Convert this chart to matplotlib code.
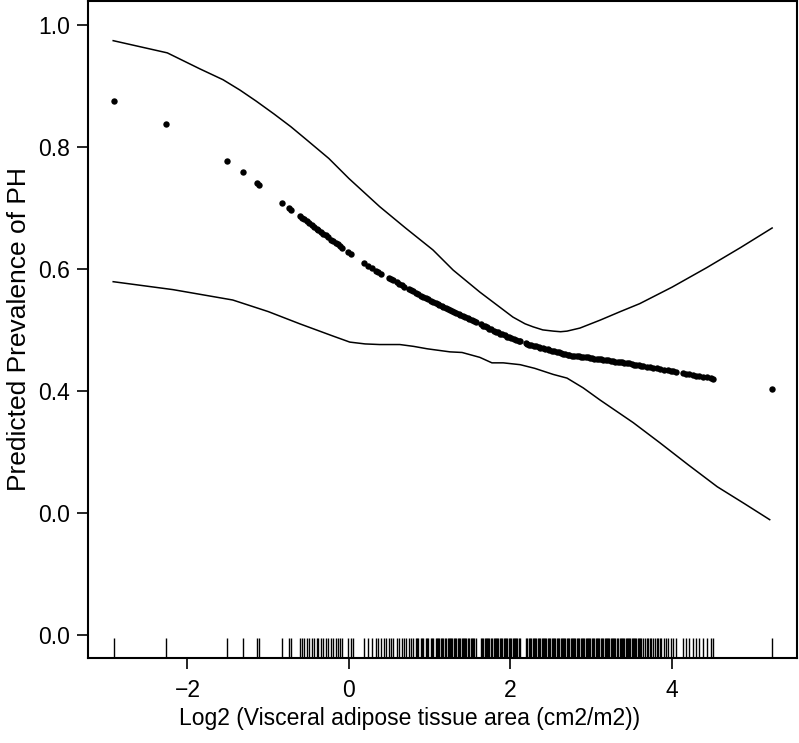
import matplotlib
matplotlib.use("Agg")
import matplotlib.pyplot as plt

plt.rcParams['font.family'] = ['Liberation Sans', 'DejaVu Sans']

# Observed x values (rug) and predicted prevalence at each (dots)
obs_x = [-2.91, -2.27, -1.51, -1.31, -1.14, -1.11, -0.826, -0.743, -0.718,
         -0.607, -0.586, -0.554, -0.524, -0.495, -0.462, -0.430, -0.400, -0.380,
         -0.347, -0.318, -0.289, -0.256, -0.223, -0.194, -0.165, -0.140, -0.111,
         -0.083, -0.009, 0.025, 0.189, 0.239, 0.281, 0.334, 0.355, 0.396,
         0.495, 0.520, 0.549, 0.591, 0.619, 0.653, 0.685, 0.743, 0.768,
         0.796, 0.826, 0.858, 0.892, 0.920, 0.950, 0.982, 1.015, 1.044, 1.074,
         1.10, 1.12, 1.15, 1.17, 1.20, 1.22, 1.25, 1.28, 1.30, 1.33, 1.36, 1.38,
         1.41, 1.44, 1.47, 1.49, 1.52, 1.55, 1.57, 1.63, 1.66, 1.68, 1.71, 1.74,
         1.76, 1.79, 1.82, 1.85, 1.87, 1.90, 1.93, 1.96, 1.98, 2.01, 2.04, 2.07,
         2.10, 2.12, 2.19, 2.21, 2.23, 2.26, 2.29, 2.32, 2.35, 2.37, 2.40, 2.43,
         2.46, 2.48, 2.51, 2.54, 2.57, 2.60, 2.62, 2.65, 2.68, 2.71, 2.73, 2.76,
         2.79, 2.82, 2.85, 2.87, 2.90, 2.93, 2.96, 2.99, 3.01, 3.04, 3.07, 3.10,
         3.12, 3.15, 3.18, 3.21, 3.24, 3.27, 3.30, 3.33, 3.35, 3.38, 3.41, 3.44,
         3.47, 3.50, 3.53, 3.56, 3.59, 3.62, 3.645, 3.687, 3.728, 3.768, 3.810,
         3.851, 3.901, 3.954, 3.984, 4.009, 4.050, 4.133, 4.173, 4.214, 4.256,
         4.297, 4.338, 4.388, 4.430, 4.479, 4.504, 5.235]

pred_y = [0.875, 0.838, 0.777, 0.759, 0.740, 0.737, 0.708, 0.699, 0.697,
          0.687, 0.684, 0.681, 0.678, 0.675, 0.672, 0.669, 0.666, 0.664,
          0.660, 0.657, 0.655, 0.652, 0.648, 0.645, 0.642, 0.640, 0.637,
          0.634, 0.627, 0.624, 0.610, 0.605, 0.601, 0.597, 0.595, 0.592,
          0.585, 0.583, 0.581, 0.578, 0.576, 0.573, 0.571, 0.567, 0.565,
          0.563, 0.561, 0.559, 0.556, 0.554, 0.552, 0.550, 0.548, 0.546, 0.544,
          0.542, 0.541, 0.539, 0.538, 0.536, 0.535, 0.533, 0.531, 0.530, 0.528, 0.526, 0.525,
          0.523, 0.521, 0.519, 0.518, 0.516, 0.514, 0.513, 0.509, 0.507, 0.506, 0.504, 0.502,
          0.501, 0.499, 0.497, 0.496, 0.494, 0.493, 0.491, 0.489, 0.488, 0.486, 0.485, 0.483,
          0.482, 0.481, 0.478, 0.477, 0.476, 0.475, 0.474, 0.473, 0.472, 0.471, 0.470, 0.469,
          0.468, 0.467, 0.466, 0.465, 0.464, 0.463, 0.462, 0.461, 0.460, 0.459, 0.459, 0.458,
          0.458, 0.457, 0.457, 0.456, 0.456, 0.455, 0.455, 0.454, 0.454, 0.453, 0.453, 0.452,
          0.452, 0.451, 0.451, 0.450, 0.449, 0.449, 0.448, 0.448, 0.447, 0.447, 0.446, 0.445,
          0.445, 0.444, 0.443, 0.443, 0.442, 0.441, 0.441, 0.440, 0.439, 0.438, 0.437,
          0.436, 0.435, 0.434, 0.433, 0.432, 0.431, 0.429, 0.428, 0.427, 0.426,
          0.425, 0.424, 0.423, 0.422, 0.421, 0.420, 0.403]

# Further observed x values in the dense part of the rug
extra_rug_x = [0.05, 0.43, 0.46, 0.71, 0.84, 0.90, 0.97, 1.03,
               1.085, 1.135, 1.185, 1.235, 1.265, 1.315, 1.345, 1.395, 1.425, 1.455,
               1.505, 1.535, 1.645, 1.695, 1.725, 1.775, 1.805, 1.835, 1.885, 1.915,
               1.945, 1.995, 2.025, 2.055, 2.085, 2.245, 2.275, 2.305, 2.335, 2.385,
               2.415, 2.445, 2.495, 2.525, 2.555, 2.585, 2.635, 2.665, 2.695, 2.745,
               2.775, 2.805, 2.835, 2.885, 2.915, 2.945, 2.975, 3.025, 3.055, 3.085,
               3.135, 3.165, 3.195, 3.225, 3.255, 3.285, 3.315, 3.365, 3.395, 3.425,
               3.455, 3.485, 3.515, 3.545, 3.575, 3.605, 3.665, 3.705, 3.745, 3.79,
               3.83, 3.87, 3.93]

# Upper confidence limit
upper_x = [-2.92, -2.25, -1.85, -1.56, -1.35, -1.15, -0.93, -0.72, -0.52, -0.25, 0.0,
           0.38, 0.70, 1.04, 1.29, 1.62, 1.85, 2.03, 2.18, 2.28, 2.40, 2.53, 2.62, 2.70,
           2.86, 3.11, 3.36, 3.60, 4.00, 4.43, 4.85, 5.24]
upper_y = [0.974, 0.954, 0.928, 0.910, 0.893, 0.875, 0.854, 0.833, 0.811, 0.781, 0.748,
           0.702, 0.667, 0.631, 0.598, 0.562, 0.539, 0.521, 0.510, 0.505, 0.500, 0.498, 0.497, 0.498,
           0.503, 0.516, 0.530, 0.543, 0.570, 0.602, 0.635, 0.667]

# Lower confidence limit
lower_x = [-2.92, -2.18, -1.44, -1.0, -0.61, -0.2, 0.01, 0.20, 0.38, 0.63, 0.80, 0.97, 1.25,
           1.40, 1.62, 1.77, 1.91, 2.12, 2.30, 2.53, 2.70, 2.90, 3.11, 3.52, 3.85, 4.20,
           4.56, 4.90, 5.21]
lower_y = [0.579, 0.566, 0.549, 0.530, 0.510, 0.490, 0.480, 0.477, 0.476, 0.476, 0.473, 0.469, 0.464,
           0.463, 0.455, 0.446, 0.446, 0.443, 0.437, 0.427, 0.421, 0.405, 0.385, 0.348, 0.315, 0.279,
           0.243, 0.215, 0.189]

ytick_vals = [1.0, 0.8, 0.6, 0.4, 0.2, 0.0]
ytick_labels = ["1.0", "0.8", "0.6", "0.4", "0.0", "0.0"]
xtick_vals = [-2, 0, 2, 4]
xtick_labels = ["\u22122", "0", "2", "4"]

fig = plt.figure(figsize=(7.99, 7.43), dpi=100)
ax = fig.add_axes([88/799, 1 - 658/743, 709/799, 657/743])

ax.plot(upper_x, upper_y, color='black', lw=1.1)
ax.plot(lower_x, lower_y, color='black', lw=1.1)
ax.plot(obs_x, pred_y, 'o', color='black', markersize=4.6, markeredgewidth=0)
ax.vlines(obs_x + extra_rug_x, 0, 0.031, color='black', lw=1.0,
          transform=ax.get_xaxis_transform())

ax.set_xlim(-3.232, 5.548)
ax.set_ylim(-0.0377, 1.039)
ax.set_yticks(ytick_vals)
ax.set_yticklabels(ytick_labels)
ax.set_xticks(xtick_vals)
ax.set_xticklabels(xtick_labels)
ax.tick_params(direction='out', length=8, width=1.2, labelsize=16.5)
ax.tick_params(axis='x', pad=7)
ax.tick_params(axis='y', pad=5)
for s in ax.spines.values():
    s.set_linewidth(1.5)

ax.set_xlabel("Log2 (Visceral adipose tissue area (cm2/m2))", fontsize=16.5)
ax.xaxis.set_label_coords((410 - 88) / 709, -0.074)
ax.set_ylabel("Predicted Prevalence of PH", fontsize=19, labelpad=5)

fig.savefig("out.png", dpi=100)
